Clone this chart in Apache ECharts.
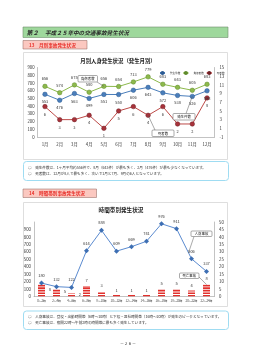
<!DOCTYPE html>
<html>
<head>
<meta charset="utf-8">
<script src="https://cdn.jsdelivr.net/npm/echarts@6/dist/echarts.min.js"></script>
<style>
  html, body { margin: 0; padding: 0; background: #fff; }
  #main { width: 260px; height: 364px; }
</style>
</head>
<body>
<div id="main"></div>
<script>
// 月別（発生月別）
const months = ['1月', '2月', '3月', '4月', '5月', '6月', '7月', '8月', '9月', '10月', '11月', '12月'];
const monthCases = [553, 476, 563, 499, 551, 550, 606, 643, 572, 538, 526, 598];
const monthInjured = [656, 574, 675, 580, 656, 654, 713, 779, 683, 643, 605, 683];
const monthDeaths = [6, 3, 3, 4, 1, 5, 6, 4, 6, 2, 2, 8];

// 時間帯別
const hours = ['0～2時', '2～4時', '4～6時', '6～8時', '8～10時', '10～12時',
  '12～14時', '14～16時', '16～18時', '18～20時', '20～22時', '22～24時'];
const hourAccidents = [180, 132, 122, 614, 888, 609, 669, 741, 976, 911, 506, 337];
const hourDeaths = [8, 5, 2, 7, 3, 1, 1, 1, 5, 5, 4, 8];

const FONT = '"Noto Sans CJK JP", sans-serif';
const BLUE = '#4a7ebb', GREEN = '#8db94c', RED = '#be4b48', BAR_RED = '#e2302c';

const chart = echarts.init(document.getElementById('main'));

function txt(x, y, text, size, opt) {
  opt = opt || {};
  return {
    type: 'text', x: x, y: y, z: 10,
    style: {
      text: text,
      font: (opt.style || '') + ' ' + (opt.weight || 'normal') + ' ' + size + 'px ' + FONT,
      fill: opt.color || '#333',
      align: opt.align || 'left', textAlign: opt.align || 'left',
      verticalAlign: 'middle', textVerticalAlign: 'middle'
    }
  };
}
function box(x, y, w, h, fill, stroke, lw, r) {
  return {
    type: 'rect', z: 1,
    shape: { x: x, y: y, width: w, height: h, r: r || 0 },
    style: { fill: fill, stroke: stroke, lineWidth: lw }
  };
}

// page furniture (headers, frames, notes)
const pageGraphics = [
  box(23, 27, 205, 10.5, '#9ed89c', '#6f8f6d', 0.6),
  txt(26.5, 32.5, '第２', 6, { style: 'italic', weight: 'bold', color: '#2a2a2a' }),
  txt(45, 32.5, '平成２５年中の交通事故発生状況', 5.6, { style: 'italic', weight: 'bold', color: '#2a2a2a' }),

  box(23, 40.5, 64, 8.5, '#fbc8c0', '#8c6058', 0.5),
  txt(29, 44.8, '13　月別事故発生状況', 4.6, { weight: 'bold', color: '#e8302a' }),
  box(23.5, 52.5, 204, 107, 'none', '#d6d6d6', 0.8),
  txt(118, 61, '月別人身発生状況（発生月別）', 5.4, { weight: 'bold', align: 'center', color: '#222' }),

  box(23.5, 161.5, 205, 19, '#fff', '#9fdcf2', 1, 3),
  txt(28, 167.3, '○　発生件数は、1ヶ月平均約556件で、8月（643件）が最も多く、2月（476件）が最も少なくなっています。', 3.6),
  txt(28, 173.5, '○　死者数は、12月が8人で最も多く、次いで1月と7月、9月の6人となっています。', 3.6),

  box(23, 189, 73.5, 8.5, '#fbc8c0', '#8c6058', 0.5),
  txt(29, 193.3, '14　時間帯別事故発生状況', 4.6, { weight: 'bold', color: '#e8302a' }),
  box(23.5, 202.5, 204, 104, 'none', '#d6d6d6', 0.8),
  txt(121, 210, '時間帯別発生状況', 5.6, { weight: 'bold', align: 'center', color: '#222' }),

  box(23.5, 311, 205, 18.5, '#fff', '#9fdcf2', 1, 3),
  txt(28, 316.6, '○　人身事故は、登校・出勤時間帯（6時～10時）と下校・退社時間帯（16時～20時）が発生のピークとなっています。', 3.6),
  txt(28, 322.8, '○　死亡事故は、夜間22時～午前2時の時間帯に最も多く発生しています。', 3.6),

  txt(128, 343, '－２６－', 4, { align: 'center', color: '#444' })
];

const axisLabel = { fontSize: 4.3, color: '#333', fontFamily: FONT };
const axisLine = { show: true, lineStyle: { color: '#9a9a9a', width: 0.6 } };

function valueAxis(grid, pos, min, max, step, extra) {
  return Object.assign({
    type: 'value', gridIndex: grid, position: pos,
    min: min, max: max, interval: step,
    axisLine: axisLine, axisTick: { show: false },
    splitLine: { show: false },
    axisLabel: Object.assign({ margin: pos === 'left' ? 3 : 5 }, axisLabel)
  }, extra || {});
}

const option = {
  animation: false,
  backgroundColor: '#fff',
  textStyle: { fontFamily: FONT },
  legend: {
    data: ['発生件数', '負傷者数', '死者数'],
    left: 154, top: 66,
    itemWidth: 5, itemHeight: 2.5, itemGap: 2,
    textStyle: { fontSize: 2.6, color: '#333' }
  },
  grid: [
    { left: 37.6, width: 176.8, top: 67.5, height: 69.5 },
    { left: 34, width: 180, top: 222, height: 74.5 }
  ],
  xAxis: [
    {
      type: 'category', gridIndex: 0, data: months,
      axisLine: axisLine, axisTick: { show: false },
      axisLabel: Object.assign({ margin: 5 }, axisLabel)
    },
    {
      type: 'category', gridIndex: 1, data: hours,
      axisLine: axisLine, axisTick: { show: false },
      axisLabel: Object.assign({ margin: 3, interval: 0 }, axisLabel, { fontSize: 2.8 })
    }
  ],
  yAxis: [
    valueAxis(0, 'left', 0, 900, 100),
    valueAxis(0, 'right', -1, 15, 2),
    valueAxis(1, 'left', 0, 1000, 100, { axisLabel: Object.assign({ margin: 3, showMaxLabel: false }, axisLabel) }),
    valueAxis(1, 'right', 0, 50, 5)
  ],
  series: [
    {
      name: '発生件数', type: 'line', xAxisIndex: 0, yAxisIndex: 0,
      data: monthCases, symbol: 'circle', symbolSize: 4.5,
      lineStyle: { color: BLUE, width: 1 },
      itemStyle: { color: BLUE, borderColor: '#2d5a91', borderWidth: 0.5 },
      label: { show: true, position: 'bottom', distance: 3, fontSize: 4, color: '#333' }
    },
    {
      name: '負傷者数', type: 'line', xAxisIndex: 0, yAxisIndex: 0,
      data: monthInjured, symbol: 'circle', symbolSize: 4.5,
      lineStyle: { color: GREEN, width: 1 },
      itemStyle: { color: GREEN, borderColor: '#5f8a2c', borderWidth: 0.5 },
      label: { show: true, position: 'top', distance: 3, fontSize: 4, color: '#333' }
    },
    {
      name: '死者数', type: 'line', xAxisIndex: 0, yAxisIndex: 1,
      data: monthDeaths, symbol: 'circle', symbolSize: 4.5,
      lineStyle: { color: RED, width: 1 },
      itemStyle: { color: '#a8323a', borderColor: '#6e1f24', borderWidth: 0.5 },
      label: { show: true, position: 'bottom', distance: 3, fontSize: 4, color: '#333' }
    },
    {
      name: '人身事故', type: 'line', xAxisIndex: 1, yAxisIndex: 2,
      data: hourAccidents, symbol: 'diamond', symbolSize: 5,
      lineStyle: { color: '#5b8bd0', width: 1 },
      itemStyle: { color: '#3e6fb3' },
      label: { show: true, position: 'top', distance: 3, fontSize: 4, color: '#333' }
    },
    {
      name: '死亡事故', type: 'pictorialBar', xAxisIndex: 1, yAxisIndex: 3,
      data: hourDeaths.map(function (v, i) {
        return { value: v, label: { position: i < 3 ? 'right' : 'top' } };
      }),
      symbol: 'rect', symbolRepeat: true, symbolSize: [7, 1.6], symbolMargin: 0.5,
      symbolClip: true,
      itemStyle: { color: BAR_RED },
      label: { show: true, distance: 2, fontSize: 4, color: '#333' },
      z: 1
    }
  ],
  graphic: pageGraphics
};

chart.setOption(option);

// callouts anchored to the data points
function pt(grid, yIdx, cat, val) {
  return chart.convertToPixel({ xAxisIndex: grid, yAxisIndex: yIdx }, [cat, val]);
}
function callout(bx, by, bw, bh, text, from, to) {
  return [
    { type: 'line', z: 11, shape: { x1: from[0], y1: from[1], x2: to[0], y2: to[1] },
      style: { stroke: '#555', lineWidth: 0.5 } },
    Object.assign(box(bx, by, bw, bh, '#fff', '#555', 0.5, 1), { z: 12 }),
    Object.assign(txt(bx + bw / 2, by + bh / 2, text, 3.4, { align: 'center', color: '#222' }), { z: 13 })
  ];
}

const injured5 = pt(0, 0, '5月', monthInjured[4]);
const cases11 = pt(0, 0, '11月', monthCases[10]);
const deaths8 = pt(0, 1, '8月', monthDeaths[7]);
const acc18 = pt(1, 2, hours[9], hourAccidents[9]);
const acc20 = pt(1, 2, hours[10], hourAccidents[10]);
const accMid = [acc18[0] + (acc20[0] - acc18[0]) * 0.8, acc18[1] + (acc20[1] - acc18[1]) * 0.8];
const death22 = pt(1, 3, hours[11], hourDeaths[11]);

const callouts = [].concat(
  callout(78, 75.5, 19.5, 6.5, '負傷者数', [97, 82], injured5),
  callout(173, 113.5, 22, 6.5, '発生件数', [186, 113.5], cases11),
  callout(152, 130, 22, 6.5, '死者数', [155, 130], deaths8),
  callout(191, 231, 21, 5.5, '人身事故', [194, 236.5], accMid),
  callout(179.5, 273, 19.5, 5.5, '死亡事故', [199, 277], death22)
);

chart.setOption({ graphic: pageGraphics.concat(callouts) });
</script>
</body>
</html>
